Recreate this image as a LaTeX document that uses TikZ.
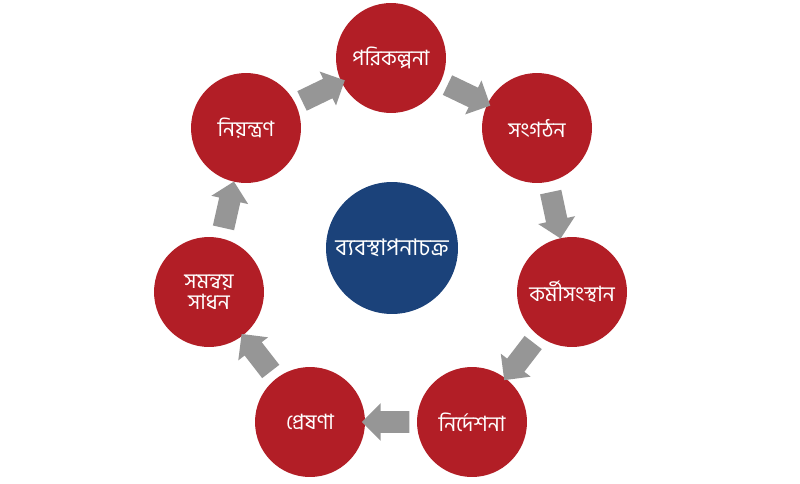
\documentclass[tikz,border=0pt]{standalone}
\usepackage{fontspec}
\newfontfamily\bnfont[Script=Bengali]{Hind Siliguri}
\usetikzlibrary{positioning,calc,shapes.arrows}
\definecolor{cyclered}{RGB}{178,30,38}
\definecolor{cycleblue}{RGB}{27,66,122}
\definecolor{arrowgray}{RGB}{150,150,150}
\tikzset{
  stage/.style={circle, fill=cyclered, minimum size=2.2cm, inner sep=1pt, text=white, font=\bnfont\fontsize{12}{14}\selectfont, align=center},
  hub/.style={circle, fill=cycleblue, minimum size=2.64cm, text=white, font=\bnfont\fontsize{13}{15}\selectfont},
  blockarrow/.style={single arrow, fill=arrowgray, minimum height=0.95cm, single arrow head extend=0.16cm, inner sep=0.21cm}
}
\begin{document}
\begin{tikzpicture}[x=0.02cm, y=-0.02cm]
	\useasboundingbox (0,0) rectangle (800,483);
	\node[hub] (chakra) at (392,248) {ব্যবস্থাপনাচক্র};
	\node[stage] (porikolpona) at (391,58) {পরিকল্পনা};
	\node[stage] (songothon) at (537,128) {সংগঠন};
	\node[stage] (kormi) at (572,292) {কর্মীসংস্থান};
	\node[stage] (nirdeshona) at (472,422) {নির্দেশনা};
	\node[stage] (preshona) at (310,422) {প্রেষণা};
	\node[stage] (somonnoy) at (209,292) {সমন্বয়\\[-2pt]সাধন};
	\node[stage] (niyontron) at (246,128) {নিয়ন্ত্রণ};
	% gray block arrows between the stages
	\foreach \from/\to in {porikolpona/songothon, songothon/kormi, kormi/nirdeshona,
		nirdeshona/preshona, preshona/somonnoy, somonnoy/niyontron, niyontron/porikolpona}
	\path let \p1=($(\to)-(\from)$), \n1={atan2(\y1,\x1)} in
		node[blockarrow, rotate=\n1] at ($(\from)!0.5!(\to)$) {};
\end{tikzpicture}
\end{document}
